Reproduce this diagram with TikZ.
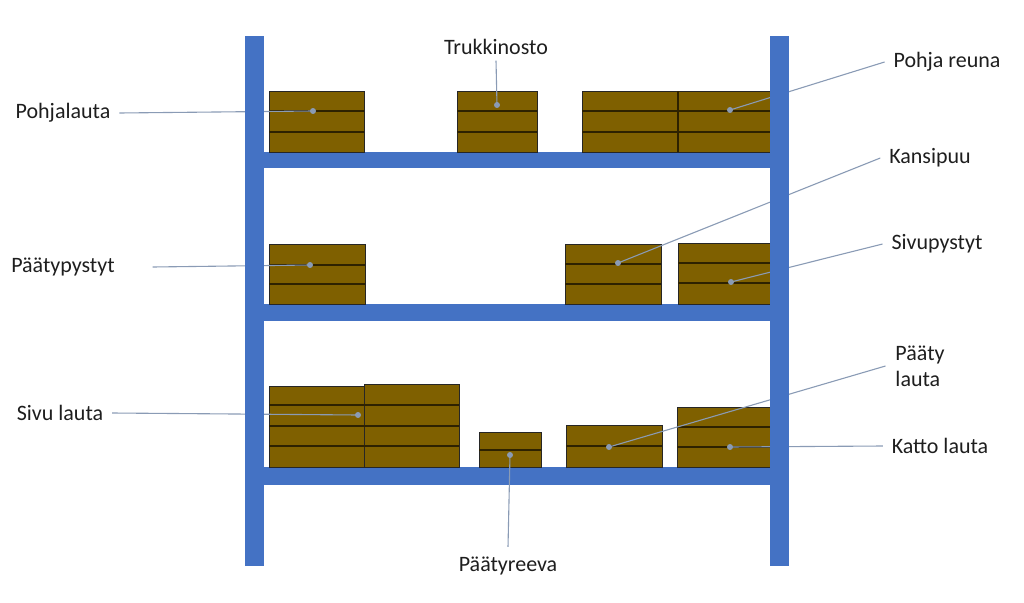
\documentclass[tikz,border=0pt]{standalone}
\usepackage{fontspec}
\setmainfont{Carlito}
\definecolor{rack}{HTML}{4472C4}
\definecolor{wood}{HTML}{7F6000}
\definecolor{woodline}{HTML}{2E2200}
\definecolor{lead}{HTML}{8A9BB5}
\definecolor{txt}{HTML}{1E1E1E}
\begin{document}
\begin{tikzpicture}[x=1pt,y=-1pt,
  rackbar/.style={fill=rack,draw=none},
  crate/.style={fill=wood,draw=black!85,line width=0.9pt},
  layer/.style={draw=woodline,line width=1.3pt},
  leader/.style={draw=lead,line width=1.1pt},
  pin/.style={fill=lead,draw=none},
  lbl/.style={font=\fontsize{22}{26}\selectfont,text=txt,inner sep=1pt},
  lblL/.style={lbl,outer xsep=8pt},
  lblR/.style={lbl,outer xsep=8pt},
  lblV/.style={lbl,outer ysep=5pt}]
\useasboundingbox (0,0) rectangle (1024,602);
% shelves
\fill[rackbar] (264,152) rectangle (770,168);
\fill[rackbar] (264,304) rectangle (770,321);
\fill[rackbar] (264,467) rectangle (770,485);
% top shelf crates
\draw[crate] (269,91) rectangle (364,152);
\draw[layer] (269,111) -- (364,111) (269,132) -- (364,132);
\draw[crate] (457,91) rectangle (537,152);
\draw[layer] (457,111) -- (537,111) (457,132) -- (537,132);
\draw[crate] (582,91) rectangle (772,152);
\draw[layer] (582,111) -- (772,111) (582,132) -- (772,132) (678,91) -- (678,152);
% middle shelf crates
\draw[crate] (269,244) rectangle (365,304);
\draw[layer] (269,265) -- (365,265) (269,284) -- (365,284);
\draw[crate] (565,244) rectangle (661,304);
\draw[layer] (565,264) -- (661,264) (565,284) -- (661,284);
\draw[crate] (678,243) rectangle (774,304);
\draw[layer] (678,263) -- (774,263) (678,283) -- (774,283);
% bottom shelf crates
\draw[crate] (269,386) rectangle (364,467);
\draw[layer] (269,405) -- (364,405) (269,426) -- (364,426) (269,446) -- (364,446);
\draw[crate] (364,384) rectangle (459,467);
\draw[layer] (364,405) -- (459,405) (364,426) -- (459,426) (364,446) -- (459,446);
\draw[crate] (479,432) rectangle (541,467);
\draw[layer] (479,450) -- (541,450);
\draw[crate] (566,425) rectangle (662,467);
\draw[layer] (566,446) -- (662,446);
\draw[crate] (677,407) rectangle (772,467);
\draw[layer] (677,427) -- (772,427) (677,447) -- (772,447);
% labels
\node[lblL] (pohjalauta) at (63,113) {Pohjalauta};
\node[lblL,outer xsep=37pt] (paatypystyt) at (63,267) {Päätypystyt};
\node[lblL] (sivulauta) at (60,413) {Sivu lauta};
\node[lblV] (trukkinosto) at (496,47) {Trukkinosto};
\node[lblV,outer ysep=9pt] (paatyreeva) at (508,566) {Päätyreeva};
\node[lblR] (pohjareuna) at (947,62) {Pohja reuna};
\node[lblR] (kansipuu) at (930,158) {Kansipuu};
\node[lblR] (sivupystyt) at (937,244) {Sivupystyt};
\node[lblR,align=left,outer xsep=9pt] (paatylauta) at (920,366) {Pääty\\lauta};
\node[lblR] (kattolauta) at (940,446) {Katto lauta};
% pin points
\coordinate (pA) at (313,111);
\coordinate (pB) at (497,105);
\coordinate (pC) at (730,110);
\coordinate (pD) at (310,265);
\coordinate (pE) at (618,263);
\coordinate (pF) at (731,282);
\coordinate (pG) at (358,415);
\coordinate (pI) at (510,455);
\coordinate (pJ) at (609,447);
\coordinate (pK) at (730,447);
% leaders
\draw[leader] (pohjalauta.east) -- (pA);
\draw[leader] (paatypystyt.east) -- (pD);
\draw[leader] (sivulauta.east) -- (pG);
\draw[leader] (trukkinosto.south) -- (pB);
\draw[leader] (paatyreeva.north) -- (pI);
\draw[leader] (pohjareuna.west) -- (pC);
\draw[leader] (kansipuu.west) -- (pE);
\draw[leader] (sivupystyt.west) -- (pF);
\draw[leader] (paatylauta.west) -- (pJ);
\draw[leader] (kattolauta.west) -- (pK);
\foreach \p in {pA,pB,pC,pD,pE,pF,pG,pI,pJ,pK} \fill[pin] (\p) circle (3pt);
% posts
\fill[rackbar] (245,36) rectangle (264,566);
\fill[rackbar] (770,36) rectangle (789,566);
\end{tikzpicture}
\end{document}
